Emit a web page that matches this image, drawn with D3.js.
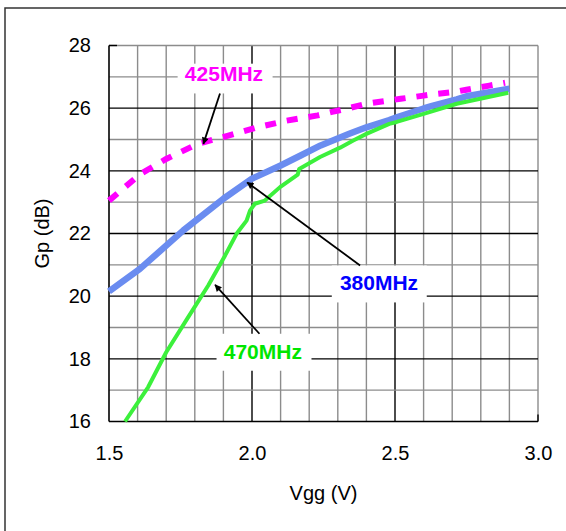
<!DOCTYPE html>
<html>
<head>
<meta charset="utf-8">
<script src="https://cdn.jsdelivr.net/npm/d3@7"></script>
<style>
  body { margin: 0; background: #fff; }
  svg text { font-family: "Liberation Sans", Arial, sans-serif; }
</style>
</head>
<body>
<div id="chart"></div>
<script>
// Gp vs Vgg at three frequencies
let vgg380 = [1.5, 1.608, 1.76, 1.90, 2.0, 2.1, 2.17, 2.24, 2.34, 2.40, 2.48, 2.506, 2.60, 2.63, 2.716, 2.75, 2.90];
let gp380 = [20.15, 20.87, 22.1, 23.11, 23.75, 24.17, 24.49, 24.81, 25.18, 25.39, 25.62, 25.71, 25.99, 26.07, 26.28, 26.38, 26.62];

let vgg425 = [1.5, 1.61, 1.70, 1.81, 1.92, 2.02, 2.12, 2.23, 2.28, 2.33, 2.40, 2.52, 2.60, 2.63, 2.716, 2.75, 2.83, 2.885];
let gp425 = [23.05, 23.9, 24.38, 24.86, 25.13, 25.39, 25.6, 25.77, 25.88, 25.98, 26.14, 26.3, 26.4, 26.44, 26.53, 26.59, 26.72, 26.81];

let vgg470 = [1.556, 1.637, 1.70, 1.777, 1.847, 1.906, 1.946, 1.981, 1.993, 2.01, 2.045, 2.098, 2.16, 2.165, 2.238, 2.308, 2.354, 2.40, 2.48, 2.506, 2.60, 2.716, 2.896];
let gp470 = [16.0, 17.1, 18.21, 19.33, 20.34, 21.3, 21.99, 22.41, 22.73, 22.95, 23.05, 23.48, 23.88, 24.06, 24.44, 24.74, 24.97, 25.18, 25.5, 25.56, 25.82, 26.14, 26.49];

let xTicks = [1.5, 2.0, 2.5, 3.0];
let yTicks = [16, 18, 20, 22, 24, 26, 28];

// label text, label centre, arrow from -> to (data units), box (data units)
let labels = [
    {name: '425MHz', color: '#ff00ff', at: [1.902, 27.1], from: [1.888, 26.47], to: [1.830, 24.86], box: [1.740, 2.072, 27.42, 26.47]},
    {name: '380MHz', color: '#0000ff', at: [2.444, 20.44], from: [2.378, 20.98], to: [1.983, 23.63], box: [2.279, 2.611, 20.98, 19.8]},
    {name: '470MHz', color: '#00e600', at: [2.038, 18.23], from: [2.026, 18.8], to: [1.871, 20.36], box: [1.876, 2.208, 18.8, 17.62]}
];

let width = 566,
    height = 531;

let x = d3.scaleLinear().domain([1.5, 3.0]).range([109, 538]);
let y = d3.scaleLinear().domain([16, 28]).range([421.5, 45.5]);

let svg = d3.select('#chart')
    .append('svg')
    .attr('width', width)
    .attr('height', height);

// outer frame
svg.append('rect')
    .attr('x', 5)
    .attr('y', 8)
    .attr('width', 600)
    .attr('height', 600)
    .attr('fill', 'none')
    .attr('stroke', '#333')
    .attr('stroke-width', 1.5);

svg.append('defs').append('marker')
    .attr('id', 'arrow')
    .attr('viewBox', '0 0 10 10')
    .attr('refX', 9)
    .attr('refY', 5)
    .attr('markerWidth', 9)
    .attr('markerHeight', 7)
    .attr('markerUnits', 'userSpaceOnUse')
    .attr('orient', 'auto')
    .append('path')
    .attr('d', 'M0,0L10,5L0,10Z')
    .attr('fill', '#000');

let grid = svg.append('g');

// vertical grid every 0.1 V
let vLines = d3.range(1, 16).map(i => +(1.5 + i * 0.1).toFixed(1));
grid.selectAll('line.v')
    .data(vLines)
    .enter()
    .append('line')
    .attr('class', 'v')
    .attr('x1', d => x(d))
    .attr('x2', d => x(d))
    .attr('y1', y(16))
    .attr('y2', y(28))
    .attr('stroke', d => (d === 2.0 || d === 2.5) ? '#000' : '#8c8c8c')
    .attr('stroke-width', 1.4);

// horizontal grid every 1 dB
let hLines = d3.range(17, 29);
grid.selectAll('line.h')
    .data(hLines)
    .enter()
    .append('line')
    .attr('class', 'h')
    .attr('x1', x(1.5))
    .attr('x2', x(3.0))
    .attr('y1', d => y(d))
    .attr('y2', d => y(d))
    .attr('stroke', d => (d % 2 === 0 && d !== 28) ? '#000' : '#8c8c8c')
    .attr('stroke-width', 1.4);

// inner ticks on the top / right edges
grid.append('line')
    .attr('x1', x(1.5)).attr('x2', x(1.5) + 8)
    .attr('y1', y(28)).attr('y2', y(28))
    .attr('stroke', '#000').attr('stroke-width', 1.4);
grid.append('line')
    .attr('x1', x(3.0)).attr('x2', x(3.0))
    .attr('y1', y(16)).attr('y2', y(16) - 7)
    .attr('stroke', '#000').attr('stroke-width', 1.4);

// axes lines
grid.append('line')
    .attr('x1', x(1.5)).attr('x2', x(1.5))
    .attr('y1', y(16)).attr('y2', y(28))
    .attr('stroke', '#000').attr('stroke-width', 1.6);
grid.append('line')
    .attr('x1', x(1.5)).attr('x2', x(3.0))
    .attr('y1', y(16)).attr('y2', y(16))
    .attr('stroke', '#000').attr('stroke-width', 1.6);

// tick labels
let xAxis = svg.append('g')
    .attr('transform', 'translate(0,' + y(16) + ')')
    .call(d3.axisBottom(x).tickValues(xTicks).tickFormat(d3.format('.1f')).tickSize(0).tickPadding(24));
let yAxis = svg.append('g')
    .attr('transform', 'translate(' + x(1.5) + ',0)')
    .call(d3.axisLeft(y).tickValues(yTicks).tickFormat(d3.format('d')).tickSize(0).tickPadding(18));
[xAxis, yAxis].forEach(function(ax) {
    ax.select('.domain').remove();
    ax.selectAll('text')
        .style('font-size', '20px')
        .style('font-family', '"Liberation Sans", Arial, sans-serif')
        .attr('fill', '#000');
});

svg.append('text')
    .attr('x', (x(1.5) + x(3.0)) / 2)
    .attr('y', 500)
    .attr('text-anchor', 'middle')
    .style('font-size', '20px')
    .text('Vgg (V)');

svg.append('text')
    .attr('transform', 'translate(49,' + ((y(16) + y(28)) / 2) + ') rotate(-90)')
    .attr('text-anchor', 'middle')
    .style('font-size', '20px')
    .text('Gp (dB)');

// series
let line = d3.line()
    .x(d => x(d[0]))
    .y(d => y(d[1]));

let series = [
    {vgg: vgg380, gp: gp380, color: '#6a8cf0', width: 6.5, dash: null},
    {vgg: vgg470, gp: gp470, color: '#3cf03c', width: 4, dash: null},
    {vgg: vgg425, gp: gp425, color: '#ff00ff', width: 6, dash: '11,11'}
];

svg.append('g')
    .selectAll('path.series')
    .data(series)
    .enter()
    .append('path')
    .attr('class', 'series')
    .attr('d', d => line(d.vgg.map((v, i) => [v, d.gp[i]])))
    .attr('fill', 'none')
    .attr('stroke', d => d.color)
    .attr('stroke-width', d => d.width)
    .attr('stroke-dasharray', d => d.dash)
    .attr('stroke-linejoin', 'round');

// annotations
let ann = svg.append('g')
    .selectAll('g.label')
    .data(labels)
    .enter()
    .append('g')
    .attr('class', 'label');

ann.append('rect')
    .attr('x', d => x(d.box[0]))
    .attr('y', d => y(d.box[2]))
    .attr('width', d => x(d.box[1]) - x(d.box[0]))
    .attr('height', d => y(d.box[3]) - y(d.box[2]))
    .attr('fill', '#fff');

ann.append('line')
    .attr('x1', d => x(d.from[0]))
    .attr('y1', d => y(d.from[1]))
    .attr('x2', d => x(d.to[0]))
    .attr('y2', d => y(d.to[1]))
    .attr('stroke', '#000')
    .attr('stroke-width', 1.8)
    .attr('marker-end', 'url(#arrow)');

ann.append('text')
    .attr('x', d => x(d.at[0]))
    .attr('y', d => y(d.at[1]))
    .attr('dy', '0.36em')
    .attr('text-anchor', 'middle')
    .style('font-size', '21px')
    .style('font-weight', 'bold')
    .attr('fill', d => d.color)
    .text(d => d.name);
</script>
</body>
</html>
